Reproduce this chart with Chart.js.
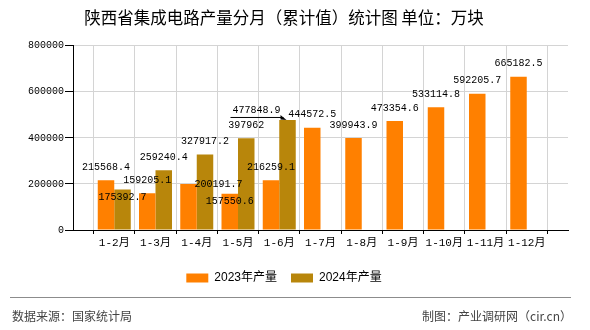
<!DOCTYPE html>
<html>
<head>
<meta charset="utf-8">
<script src="https://cdn.jsdelivr.net/npm/chart.js@4/dist/chart.umd.min.js"></script>
<style>
  body { margin: 0; background: #fff; }
  #wrap { position: relative; width: 590px; height: 330px; overflow: hidden; }
  .foot { position: absolute; top: 308px; font: 12px "Noto Sans CJK SC", sans-serif; color: #444; line-height: 16px; }
  #rule { position: absolute; left: 10px; top: 297px; width: 561px; height: 1px; background: #8c8c8c; }
</style>
</head>
<body>
<div id="wrap">
  <canvas id="c" width="590" height="330"></canvas>
  <div id="rule"></div>
  <div class="foot" style="left:12px">数据来源：国家统计局</div>
  <div class="foot" style="right:18px">制图：产业调研网（cir.cn）</div>
</div>
<script>
  const categories = ['1-2月', '1-3月', '1-4月', '1-5月', '1-6月', '1-7月', '1-8月', '1-9月', '1-10月', '1-11月', '1-12月'];
  const output2023 = [215568.4, 159205.1, 200191.7, 157550.6, 216259.1, 444572.5, 399943.9, 473354.6, 533114.8, 592205.7, 665182.5];
  const output2024 = [175392.7, 259240.4, 327917.2, 397962, 477848.9, null, null, null, null, null, null];
  const yTickValues = [0, 200000, 400000, 600000, 800000];

  // value labels that were moved off the default spot (dataset-category : [dx, dy] from bar top)
  const labelMoves = { '0-2': [30, 0], '0-3': [0, 8], '1-0': [0, 8], '1-4': [-31, -10] };

  const monoFont = '"Liberation Mono", "Noto Sans CJK SC", monospace';

  // empty slot at each end so the groups sit on the grid lines
  const pad = arr => [null, ...arr, null];

  const valueLabels = {
    id: 'valueLabels',
    afterDatasetsDraw(chart) {
      const ctx = chart.ctx;
      ctx.save();
      ctx.font = '10px ' + monoFont;
      ctx.fillStyle = '#000';
      ctx.textAlign = 'center';
      ctx.textBaseline = 'middle';
      chart.data.datasets.forEach((ds, d) => {
        chart.getDatasetMeta(d).data.forEach((bar, i) => {
          const v = ds.data[i];
          if (v == null) return;
          const mv = labelMoves[d + '-' + (i - 1)] || [0, -13];
          ctx.fillText(String(v), bar.x + mv[0], bar.y + mv[1]);
          if (d === 1 && i - 1 === 4) {
            // leader line back to the bar
            ctx.strokeStyle = '#000';
            ctx.lineWidth = 1;
            ctx.beginPath();
            ctx.moveTo(bar.x - 57, bar.y - 2.5);
            ctx.lineTo(bar.x - 4, bar.y - 2.5);
            ctx.stroke();
            ctx.beginPath();
            ctx.moveTo(bar.x - 1, bar.y);
            ctx.lineTo(bar.x - 7, bar.y - 5);
            ctx.lineTo(bar.x - 7, bar.y - 0.5);
            ctx.closePath();
            ctx.fill();
          }
        });
      });
      ctx.restore();
    }
  };

  new Chart(document.getElementById('c'), {
    type: 'bar',
    data: {
      labels: ['', ...categories, ''],
      datasets: [
        { label: '2023年产量', data: pad(output2023), backgroundColor: '#FF8000', borderWidth: 0 },
        { label: '2024年产量', data: pad(output2024), backgroundColor: '#B8860B', borderWidth: 0 }
      ]
    },
    options: {
      responsive: false,
      animation: false,
      events: [],
      categoryPercentage: 0.8,
      barPercentage: 1.0,
      layout: { padding: { left: 0, right: 22, top: 0, bottom: 36 } },
      plugins: {
        title: {
          display: true,
          text: '陕西省集成电路产量分月（累计值）统计图 单位：万块',
          color: '#000',
          font: { family: '"Noto Sans CJK SC", sans-serif', size: 16.5, weight: 'normal' },
          padding: { top: 8, bottom: 18 }
        },
        legend: {
          position: 'bottom',
          labels: {
            boxWidth: 22,
            boxHeight: 9,
            padding: 14,
            color: '#000',
            font: { family: '"Liberation Sans", "Noto Sans CJK SC", sans-serif', size: 12 }
          }
        },
        tooltip: { enabled: false }
      },
      scales: {
        x: {
          offset: false,
          grid: { color: '#d4d4d4', tickColor: '#000', tickLength: 4 },
          border: { color: '#000' },
          ticks: { color: '#000', padding: 2, autoSkip: false, maxRotation: 0, font: { family: monoFont, size: 11 } },
          afterFit: s => { s.height = 28; }
        },
        y: {
          min: 0,
          max: 800000,
          grid: { color: '#d4d4d4', tickColor: '#000', tickLength: 8 },
          border: { color: '#000' },
          afterBuildTicks: s => { s.ticks = yTickValues.map(v => ({ value: v })); },
          ticks: { color: '#000', padding: 1, font: { family: monoFont, size: 10 }, callback: v => String(v) },
          afterFit: s => { s.width = 73; }
        }
      }
    },
    plugins: [valueLabels]
  });
</script>
</body>
</html>
